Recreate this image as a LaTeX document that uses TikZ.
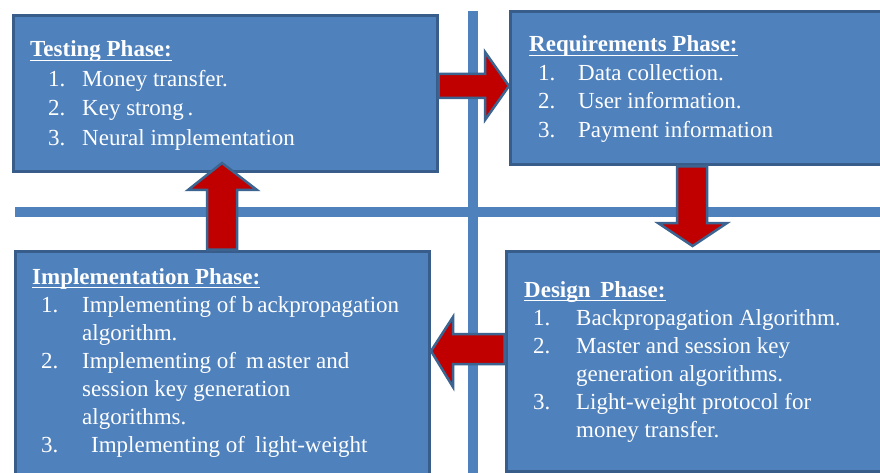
\documentclass[tikz,border=0pt]{standalone}
\usepackage{fontspec}
\setmainfont{Liberation Serif}

\definecolor{boxfill}{HTML}{4F81BD}
\definecolor{boxedge}{HTML}{385D8A}
\definecolor{gridblue}{HTML}{4F81BD}
\definecolor{arrowred}{HTML}{C00000}
\definecolor{arrowedge}{HTML}{3B6491}

% bold heading with a thin rule set just under the baseline
\newcommand\phasetitle[1]{\setbox0\hbox{\bfseries #1}\rlap{\rule[-4pt]{\wd0}{1.3pt}}\box0}
% numbered entry: indent, width of the number column, number
\newcommand\phaseitem[3]{\hspace{#1}\makebox[#2][l]{#3}}

\tikzset{
  phasebox/.style={draw=boxedge, fill=boxfill, line width=3pt, inner sep=0pt,
    anchor=north west, rectangle},
  phasetext/.style={anchor=base west, inner sep=0pt, text=white},
  gridline/.style={draw=gridblue, line width=10pt},
  blockarrow/.style={fill=arrowred, draw=arrowedge, line width=2.5pt, line join=miter},
}

\begin{document}
\begin{tikzpicture}[x=1pt, y=-1pt]
\useasboundingbox (0,0) rectangle (880,473);
\clip (0,0) rectangle (880,473);
\fill[white] (0,0) rectangle (880,473);

% dividing cross
\coordinate (hl) at (15,212);
\coordinate (hr) at (885,212);
\coordinate (vt) at (473,11);
\coordinate (vb) at (473,480);
\draw[gridline] (hl) -- (hr);
\draw[gridline] (vt) -- (vb);

% phase boxes
\node[phasebox, minimum width=424pt, minimum height=156pt] (test) at (11.5,14.5) {};
\node[phasebox, minimum width=400pt, minimum height=153pt] (req) at (508.5,10.5) {};
\node[phasebox, minimum width=414pt, minimum height=240pt] (impl) at (13.5,249.5) {};
\node[phasebox, minimum width=400pt, minimum height=220pt] (des) at (504.5,249.5) {};

% testing
\node[phasetext, font=\fontsize{23}{29.5}\selectfont] (testtxt) at (30,57) {%
\begin{tabular}[t]{@{}l@{}}
\phasetitle{Testing Phase:}\\
\phaseitem{18pt}{34pt}{1.}Money transfer.\\
\phaseitem{18pt}{34pt}{2.}Key strong\,.\\
\phaseitem{18pt}{34pt}{3.}Neural implementation
\end{tabular}};

% requirements
\node[phasetext, font=\fontsize{23}{28.5}\selectfont] (reqtxt) at (529,52) {%
\begin{tabular}[t]{@{}l@{}}
\phasetitle{Requirements Phase:}\\
\phaseitem{9pt}{40pt}{1.}Data collection.\\
\phaseitem{9pt}{40pt}{2.}User information.\\
\phaseitem{9pt}{40pt}{3.}Payment information
\end{tabular}};

% implementation
\node[phasetext, font=\fontsize{23}{28}\selectfont] (impltxt) at (32,284) {%
\begin{tabular}[t]{@{}l@{}}
\phasetitle{Implementation Phase:}\\
\phaseitem{9pt}{41pt}{1.}Implementing of b\hspace{4pt}ackpropagation\\
\hspace{50pt}algorithm.\\
\phaseitem{9pt}{41pt}{2.}Implementing of\hspace{10pt}m\hspace{3pt}aster and\\
\hspace{50pt}session key generation\\
\hspace{50pt}algorithms.\\
\phaseitem{9pt}{41pt}{3.}\hspace{9pt}Implementing of\hspace{10pt}light-weight
\end{tabular}};

% design
\node[phasetext, font=\fontsize{23}{28}\selectfont] (destxt) at (524,297) {%
\begin{tabular}[t]{@{}l@{}}
\phasetitle{Design\hspace{4pt} Phase:}\\
\phaseitem{9pt}{43pt}{1.}Backpropagation Algorithm.\\
\phaseitem{9pt}{43pt}{2.}Master and session key\\
\hspace{52pt}generation algorithms.\\
\phaseitem{9pt}{43pt}{3.}Light-weight protocol for\\
\hspace{52pt}money transfer.
\end{tabular}};

% flow arrows between the phases
\draw[blockarrow] (test.east |- 0,74) -- (485,74) -- (485,52) -- (509,86)
  -- (485,120) -- (485,98) -- (test.east |- 0,98) -- cycle;
\draw[blockarrow] (677,0 |- req.south) -- (677,223) -- (658,223) -- (692.5,246)
  -- (727,223) -- (707,223) -- (707,0 |- req.south) -- cycle;
\draw[blockarrow] (des.west |- 0,334) -- (453,334) -- (453,317) -- (431,351)
  -- (453,387) -- (453,364) -- (des.west |- 0,364) -- cycle;
\draw[blockarrow] (207,0 |- impl.north) -- (207,190) -- (188,190) -- (222,163)
  -- (257,190) -- (237,190) -- (237,0 |- impl.north) -- cycle;
\end{tikzpicture}
\end{document}
